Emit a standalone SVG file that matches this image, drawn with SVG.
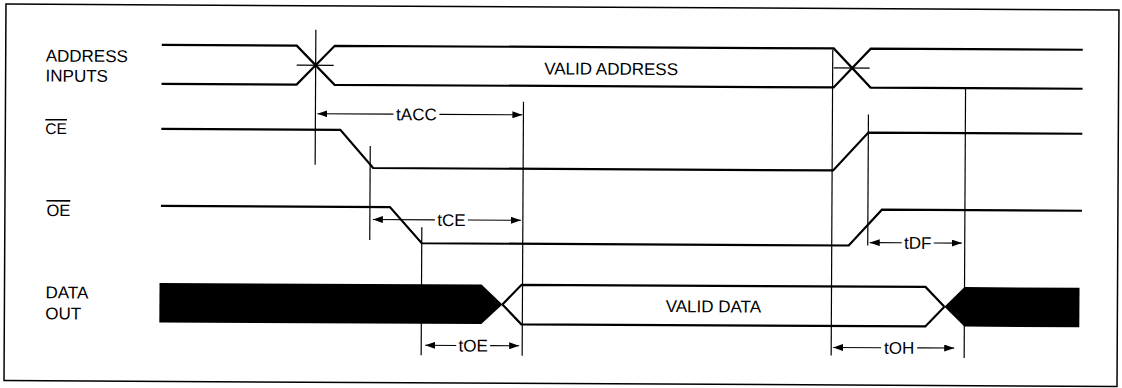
<svg xmlns="http://www.w3.org/2000/svg" width="1122" height="388" viewBox="0 0 1122 388">
<defs>
<style>
.frame{fill:none;stroke:#000;stroke-width:1.5}
.sig{fill:none;stroke:#000;stroke-width:2.2;stroke-linejoin:miter}
.blk{fill:#000;stroke:none}
.tick{fill:none;stroke:#000;stroke-width:1.2}
.arr{fill:none;stroke:#000;stroke-width:1.1;marker-end:url(#ah)}
.lbl{font-family:"Liberation Sans",Arial,Helvetica,sans-serif;font-size:17px;fill:#000}
.mid{text-anchor:middle}
.ov{text-decoration:overline}
</style>
<marker id="ah" markerUnits="userSpaceOnUse" markerWidth="10" markerHeight="7" refX="10" refY="3.5" orient="auto">
<path d="M0,0 L10,3.5 L0,7 z" fill="#000"/>
</marker>
</defs>
<rect width="1122" height="388" fill="#fff"/>
<g transform="rotate(0.3 561 194)">
<rect class="frame" x="5" y="7" width="1113" height="376.5"/>

<g id="address">
<text class="lbl" x="45" y="64.3">ADDRESS</text>
<text class="lbl" x="45" y="84.3">INPUTS</text>
<path class="sig" d="M161,47 H296 L334,86 H833 L870,47 H1082"/>
<path class="sig" d="M161,86 H296 L334,47 H833 L870,86 H1082"/>
<text class="lbl mid" x="610.5" y="74.5">VALID ADDRESS</text>
</g>

<g id="ce">
<text class="lbl ov" x="45" y="136.6" style="font-size:15.5px">CE</text>
<path class="sig" d="M161,131 H340 L373,169 H833 L868,131 H1082"/>
</g>

<g id="oe">
<text class="lbl ov" x="46.5" y="218.6" style="font-size:16.5px">OE</text>
<path class="sig" d="M161,208 H390 L422,244 H849 L882,208 H1082"/>
</g>

<g id="dataout">
<text class="lbl" x="46" y="301">DATA</text>
<text class="lbl" x="46" y="322">OUT</text>
<polygon class="blk" points="160,285 482,285 503,304.75 482,324.5 160,324.5"/>
<path class="sig" d="M503,304.75 L522,285 H926 L945,304.75"/>
<path class="sig" d="M503,304.75 L522,324.5 H926 L945,304.75"/>
<polygon class="blk" points="945,304.75 965,285 1080,285 1080,324.5 965,324.5"/>
<text class="lbl mid" x="714" y="311.5">VALID DATA</text>
</g>

<g id="connectors">
<line class="tick" x1="315" y1="31" x2="315" y2="166"/>
<line class="tick" x1="296" y1="66.5" x2="333" y2="66.5"/>
<line class="tick" x1="833" y1="66.5" x2="869" y2="66.5"/>
<line class="tick" x1="523" y1="102" x2="523" y2="356"/>
<line class="tick" x1="370" y1="147" x2="370" y2="241"/>
<line class="tick" x1="422" y1="228" x2="422" y2="356"/>
<line class="tick" x1="832" y1="48" x2="832" y2="354"/>
<line class="tick" x1="868" y1="113" x2="868" y2="244"/>
<line class="tick" x1="965" y1="86" x2="965" y2="356"/>

<line class="arr" x1="393" y1="115" x2="317" y2="115"/>
<line class="arr" x1="439" y1="115" x2="522" y2="115"/>
<text class="lbl mid" x="416" y="121">tACC</text>

<line class="arr" x1="435" y1="220.5" x2="373" y2="220.5"/>
<line class="arr" x1="468" y1="220.5" x2="521" y2="220.5"/>
<text class="lbl mid" x="451.5" y="226.5">tCE</text>

<line class="arr" x1="457" y1="346" x2="426" y2="346"/>
<line class="arr" x1="491" y1="346" x2="520" y2="346"/>
<text class="lbl mid" x="474" y="352">tOE</text>

<line class="arr" x1="902" y1="241" x2="870" y2="241"/>
<line class="arr" x1="934" y1="241" x2="962" y2="241"/>
<text class="lbl mid" x="918" y="247">tDF</text>

<line class="arr" x1="882" y1="346" x2="834" y2="346"/>
<line class="arr" x1="918" y1="346" x2="955" y2="346"/>
<text class="lbl mid" x="900" y="352">tOH</text>
</g>
</g>
</svg>
